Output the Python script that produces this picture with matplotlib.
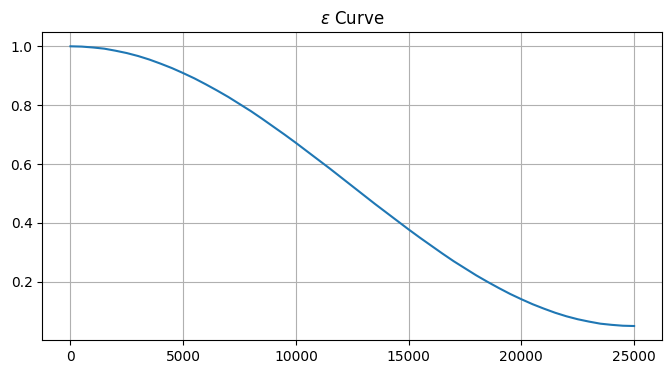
import matplotlib
matplotlib.use("Agg")
import matplotlib.pyplot as plt

steps = [0, 500, 1000, 1500, 2000, 2500, 3000, 3500, 4000, 4500, 5000,
         5500, 6000, 6500, 7000, 7500, 8000, 8500, 9000, 9500, 10000,
         10500, 11000, 11500, 12000, 12500, 13000, 13500, 14000, 14500, 15000,
         15500, 16000, 16500, 17000, 17500, 18000, 18500, 19000, 19500, 20000,
         20500, 21000, 21500, 22000, 22500, 23000, 23500, 24000, 24500, 25000]
epsilon = [1.000, 0.999, 0.996, 0.992, 0.985, 0.977, 0.967, 0.955, 0.941, 0.926, 0.909,
           0.891, 0.871, 0.850, 0.828, 0.804, 0.780, 0.754, 0.727, 0.700, 0.672,
           0.643, 0.614, 0.585, 0.555, 0.525, 0.495, 0.465, 0.436, 0.407, 0.378,
           0.350, 0.323, 0.296, 0.270, 0.246, 0.222, 0.200, 0.179, 0.159, 0.141,
           0.124, 0.109, 0.095, 0.083, 0.073, 0.065, 0.058, 0.054, 0.051, 0.050]

fig = plt.figure(figsize=(6.71, 3.74), dpi=100)
ax = fig.add_axes([0.0630, 0.0909, 0.924, 0.8227])
ax.plot(steps, epsilon, color="#1f77b4")
ax.set_title(r"$\epsilon$ Curve")
ax.grid(True)
fig.savefig("out.png", dpi=100)
